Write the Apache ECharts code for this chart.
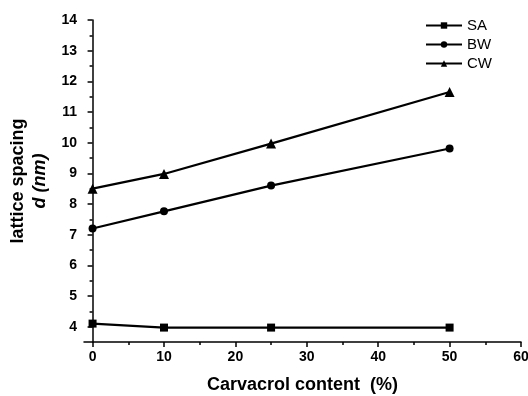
<!DOCTYPE html>
<html>
<head>
<meta charset="utf-8">
<script src="https://cdn.jsdelivr.net/npm/echarts@6/dist/echarts.min.js"></script>
<style>
  html, body { margin: 0; padding: 0; background: #fff; }
  #chart { width: 528px; height: 396px; }
</style>
</head>
<body>
<div id="chart"></div>
<script>
// carvacrol content (%)
const xValues = [0, 10, 25, 50];
// lattice spacing d (nm)
const saValues = [4.10, 3.97, 3.97, 3.97];
const bwValues = [7.20, 7.76, 8.60, 9.81];
const cwValues = [8.50, 8.98, 9.97, 11.65];

const xLabelTicks = [0, 10, 20, 30, 40, 50, 60];
const xMinorTicks = [5, 15, 25, 35, 45, 55];
const yLabelTicks = [4, 5, 6, 7, 8, 9, 10, 11, 12, 13, 14];
const yMinorTicks = [4.5, 5.5, 6.5, 7.5, 8.5, 9.5, 10.5, 11.5, 12.5, 13.5];

const FONT = 'Liberation Sans, Arial, sans-serif';

function pairs(vals) {
  return xValues.map((x, i) => [x, vals[i]]);
}

const chart = echarts.init(document.getElementById('chart'), null, { renderer: 'canvas' });

const lineStyle = { color: '#000', width: 2.2 };

chart.setOption({
  animation: false,
  backgroundColor: '#fff',
  grid: { left: 84, right: 7, top: 20, bottom: 54, outerBoundsMode: 'none', containLabel: false },
  legend: {
    orient: 'vertical',
    left: 420,
    top: 13,
    itemWidth: 36,
    itemHeight: 8,
    itemGap: 4,
    textStyle: { fontFamily: FONT, fontSize: 15, color: '#000' },
    data: ['SA', 'BW', 'CW']
  },
  xAxis: [{
    type: 'value',
    min: -1.2,
    max: 60,
    position: 'bottom',
    name: 'Carvacrol content  (%)',
    nameLocation: 'middle',
    nameGap: 34,
    nameTextStyle: { fontFamily: FONT, fontSize: 18, fontWeight: 'bold', color: '#000' },
    splitLine: { show: false },
    axisLine: { lineStyle: { color: '#000', width: 1.5 } },
    axisTick: { customValues: xLabelTicks, length: 5, lineStyle: { color: '#000', width: 1.5 } },
    axisLabel: { customValues: xLabelTicks, fontFamily: FONT, fontSize: 14, fontWeight: 'bold', color: '#000', margin: 8 }
  }, {
    type: 'value',
    min: -1.2,
    max: 60,
    position: 'bottom',
    splitLine: { show: false },
    axisLine: { show: false },
    axisTick: { customValues: xMinorTicks, length: 3, lineStyle: { color: '#000', width: 1.5 } },
    axisLabel: { show: false }
  }],
  yAxis: [{
    type: 'value',
    min: 3.5,
    max: 14,
    position: 'left',
    name: '{a|lattice spacing}\n{b|d (nm)}',
    nameLocation: 'middle',
    nameRotate: 90,
    nameGap: 33,
    nameMoveOverlap: false,
    nameTextStyle: {
      color: '#000',
      rich: {
        a: { fontFamily: FONT, fontSize: 18, fontWeight: 'bold', color: '#000', lineHeight: 22 },
        b: { fontFamily: FONT, fontSize: 18, fontWeight: 'bold', fontStyle: 'italic', color: '#000', lineHeight: 22 }
      }
    },
    splitLine: { show: false },
    axisLine: { show: true, lineStyle: { color: '#000', width: 1.5 } },
    axisTick: { show: true, customValues: yLabelTicks, length: 5, lineStyle: { color: '#000', width: 1.5 } },
    axisLabel: { customValues: yLabelTicks, fontFamily: FONT, fontSize: 14, fontWeight: 'bold', color: '#000', margin: 7 }
  }, {
    type: 'value',
    min: 3.5,
    max: 14,
    position: 'left',
    splitLine: { show: false },
    axisLine: { show: false },
    axisTick: { show: true, customValues: yMinorTicks, length: 3, lineStyle: { color: '#000', width: 1.5 } },
    axisLabel: { show: false }
  }],
  series: [{
    name: 'SA',
    type: 'line',
    data: pairs(saValues),
    symbol: 'rect',
    symbolSize: 8,
    lineStyle: lineStyle,
    itemStyle: { color: '#000' }
  }, {
    name: 'BW',
    type: 'line',
    data: pairs(bwValues),
    symbol: 'circle',
    symbolSize: 8,
    lineStyle: lineStyle,
    itemStyle: { color: '#000' }
  }, {
    name: 'CW',
    type: 'line',
    data: pairs(cwValues),
    symbol: 'triangle',
    symbolSize: 10,
    lineStyle: lineStyle,
    itemStyle: { color: '#000' }
  }]
});
</script>
</body>
</html>
